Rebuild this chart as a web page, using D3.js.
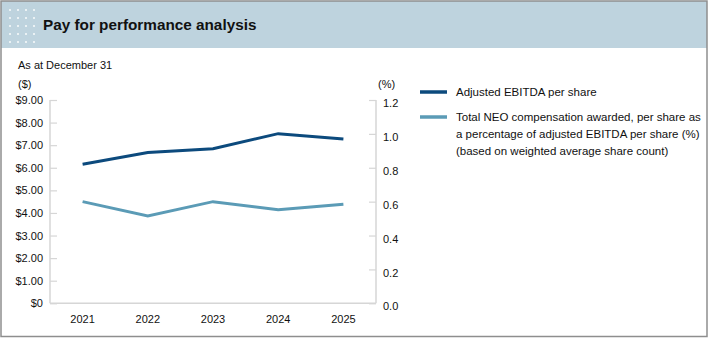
<html>
<head>
<style>
    body { margin: 0; background: #fff; }
    svg { display: block; font-family: 'Liberation Sans', Arial, Helvetica, sans-serif; }
</style>
</head>
<body>
<svg width="710" height="339"></svg>
<script src="https://d3js.org/d3.v7.min.js"></script>
<script>
// chart data
let years = ["2021", "2022", "2023", "2024", "2025"];
let ebitdaPerShare = [6.16, 6.68, 6.84, 7.51, 7.27];
let neoPct = [0.60, 0.515, 0.60, 0.552, 0.585];
let dollarTicks = [0, 1, 2, 3, 4, 5, 6, 7, 8, 9];
let pctTicks = [0, 0.2, 0.4, 0.6, 0.8, 1.0, 1.2];
let legendLabels = [
    ["Adjusted EBITDA per share"],
    ["Total NEO compensation awarded, per share as",
     "a percentage of adjusted EBITDA per share (%)",
     "(based on weighted average share count)"]
];

let darkBlue = "#0c4a7d";
let lightBlue = "#5b9bb6";
let axisGray = "#d6d6d6";

let svg = d3.select("svg");

// header band + frame
svg.append("rect")
    .attr("x", 1).attr("y", 1).attr("width", 706).attr("height", 47)
    .attr("fill", "#bed3de");

let dots = svg.append("g");
for (let r = 0; r < 5; r++) {
    for (let c = 0; c < 4; c++) {
        dots.append("circle")
            .attr("cx", 10 + c * 8).attr("cy", 10 + r * 8).attr("r", 1)
            .attr("fill", "#ffffff").attr("opacity", 0.9);
    }
}

svg.append("text")
    .attr("x", 43).attr("y", 29.5)
    .style("font-size", "15.3px").style("font-weight", "bold")
    .attr("fill", "#111")
    .text("Pay for performance analysis");

svg.append("rect")
    .attr("x", 1).attr("y", 1).attr("width", 706).attr("height", 335.5)
    .attr("fill", "none").attr("stroke", "#8e8e8e").attr("stroke-width", 1.5);

svg.append("text")
    .attr("x", 18).attr("y", 69)
    .style("font-size", "11px").attr("fill", "#111")
    .text("As at December 31");

svg.append("text")
    .attr("x", 18).attr("y", 88)
    .style("font-size", "11px").attr("fill", "#111")
    .text("($)");

svg.append("text")
    .attr("x", 378).attr("y", 88)
    .style("font-size", "11px").attr("fill", "#111")
    .text("(%)");

// scales
let plotL = 50, plotR = 376, plotT = 100, plotB = 303.3;

let x = d3.scaleBand().domain(years).range([plotL, plotR]);
let yL = d3.scaleLinear().domain([0, 9]).range([plotB, plotT]);
let yR = d3.scaleLinear().domain([0, 1.2]).range([plotB, plotT]);

let xc = d => x(d) + x.bandwidth() / 2;

// axes
let leftAxis = svg.append("g")
    .attr("transform", `translate(${plotL},0)`)
    .call(d3.axisRight(yL).tickValues(dollarTicks).tickSize(7)
        .tickFormat(d => d === 0 ? "$0" : "$" + d3.format(".2f")(d)));
leftAxis.selectAll("text").attr("x", -7).attr("text-anchor", "end");

let rightAxis = svg.append("g")
    .attr("transform", `translate(${plotR},0)`)
    .call(d3.axisLeft(yR).tickValues(pctTicks).tickSize(7)
        .tickFormat(d3.format(".1f")));
rightAxis.selectAll("text").attr("x", 7).attr("dy", "0.6em").attr("text-anchor", "start");

[leftAxis, rightAxis].forEach(g => {
    g.select(".domain").attr("stroke", axisGray).attr("stroke-width", 1.5)
        .attr("d", `M0,${plotT}V${plotB}`);
    g.selectAll(".tick line").attr("stroke", axisGray).attr("stroke-width", 1.2);
    g.selectAll("text").style("font-size", "11px").attr("fill", "#111")
        .style("font-family", "'Liberation Sans', Arial, sans-serif");
});

svg.append("line")
    .attr("x1", plotL).attr("x2", plotR).attr("y1", plotB).attr("y2", plotB)
    .attr("stroke", axisGray).attr("stroke-width", 1.5);

let xAxis = svg.append("g")
    .attr("transform", `translate(0,${plotB})`)
    .call(d3.axisBottom(x).tickSize(0).tickPadding(12));
xAxis.select(".domain").remove();
xAxis.selectAll("text").style("font-size", "11px").attr("fill", "#111")
    .style("font-family", "'Liberation Sans', Arial, sans-serif");

// lines
let lineL = d3.line().x((d, i) => xc(years[i])).y(d => yL(d));
let lineR = d3.line().x((d, i) => xc(years[i])).y(d => yR(d));

svg.append("path")
    .attr("d", lineR(neoPct))
    .attr("fill", "none").attr("stroke", lightBlue).attr("stroke-width", 3);

svg.append("path")
    .attr("d", lineL(ebitdaPerShare))
    .attr("fill", "none").attr("stroke", darkBlue).attr("stroke-width", 3);

// legend
let legendColors = [darkBlue, lightBlue];
let legendY = [92, 117];
legendLabels.forEach((lines, i) => {
    svg.append("line")
        .attr("x1", 420).attr("x2", 447)
        .attr("y1", legendY[i]).attr("y2", legendY[i])
        .attr("stroke", legendColors[i]).attr("stroke-width", 3.5);
    let t = svg.append("text")
        .attr("x", 456).attr("y", legendY[i] + 4)
        .style("font-size", "11.5px").attr("fill", "#111");
    lines.forEach((s, j) => {
        t.append("tspan").attr("x", 456).attr("dy", j === 0 ? 0 : 17).text(s);
    });
});
</script>
</body>
</html>
